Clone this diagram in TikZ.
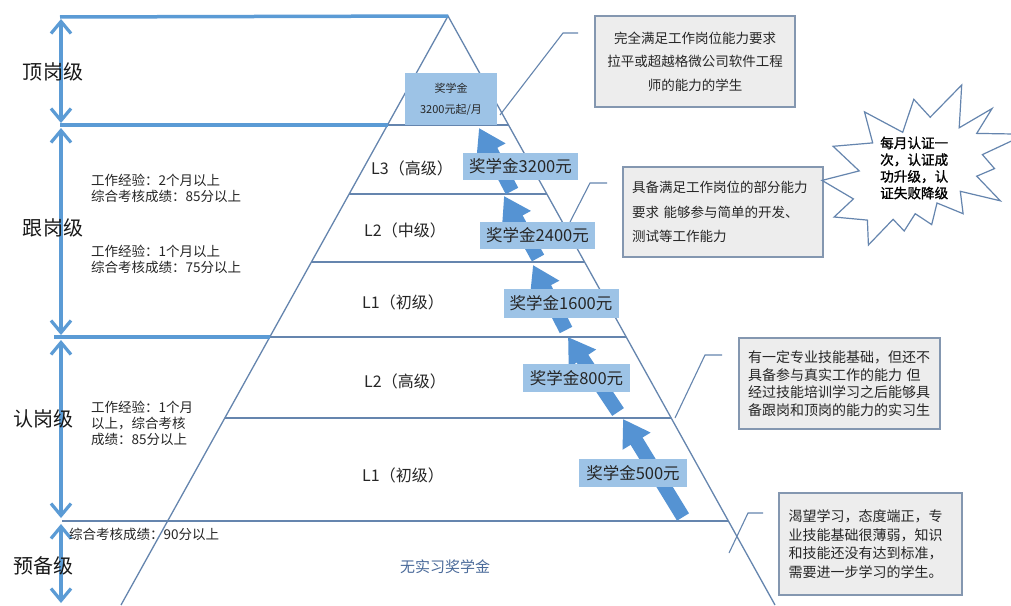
\documentclass[tikz,border=0pt]{standalone}
\usepackage{fontspec}
\setmainfont{Noto Sans CJK SC}
\newfontfamily\cjkbold{Noto Sans CJK SC}[FakeBold=1.2]
\usetikzlibrary{arrows.meta}
\definecolor{thickblue}{HTML}{5B9BD5}
\definecolor{pyr}{HTML}{6585AE}
\definecolor{arrowblue}{HTML}{5593D3}
\definecolor{lblue}{HTML}{9DC3E6}
\definecolor{gfill}{HTML}{EDEDED}
\definecolor{gdraw}{HTML}{8497B0}
\definecolor{txt}{HTML}{262626}
\definecolor{notxt}{HTML}{4A6A9A}
\begin{document}
\begin{tikzpicture}[x=1pt,y=-1pt,
  divline/.style={draw=thickblue,line width=3.5pt},
  pyrline/.style={draw=pyr,line width=1.3pt},
  callout/.style={draw=pyr,line width=1.1pt},
  levarrow/.style={draw=thickblue,line width=3.2pt,{Straight Barb[length=12pt,width=20pt]}-{Straight Barb[length=12pt,width=20pt]}},
  blockarrow/.style={draw=arrowblue,line width=14pt,-{Triangle[length=26pt,width=31pt]}},
  lbox/.style={fill=lblue,inner sep=0pt,text=txt,font=\fontsize{16.5}{18}\selectfont},
  gbox/.style={fill=gfill,draw=gdraw,line width=1.2pt,text=txt,inner sep=0pt},
  levlabel/.style={font=\fontsize{20}{24}\selectfont,text=black!90},
  pyrlabel/.style={font=\fontsize{16}{18}\selectfont,text=txt},
  cond/.style={font=\fontsize{13.5}{16}\selectfont,text=txt,align=left,anchor=west,inner sep=0pt},
]
\useasboundingbox (0,0) rectangle (1011,605);
\clip (0,0) rectangle (1011,605);
\fill[white] (0,0) rectangle (1011,605);

% pyramid
\coordinate (apex) at (448,16);
\coordinate (bl) at (121,605);
\coordinate (br) at (775,605);
\draw[pyrline] (bl) -- (apex) -- (br);

% level lines
\draw[divline] (60,17) -- (apex);
\draw[divline] (60,125) -- (387.5,125);
\draw[pyrline] (387.5,125) -- (508.5,125);
\draw[pyrline] (349.2,194) -- (546.8,194);
\draw[pyrline] (311.5,262) -- (584.5,262);
\draw[divline] (54,337) -- (269.8,337);
\draw[pyrline] (269.8,337) -- (626.2,337);
\draw[pyrline] (224.9,418) -- (671.1,418);
\draw[pyrline,line width=1.8pt] (62,521) -- (728.3,521);

% vertical level arrows
\draw[levarrow] (61,19) -- (61,123);
\draw[levarrow] (61,128) -- (61,335);
\draw[levarrow] (61,340) -- (61,518);
\draw[levarrow] (61,524) -- (61,603);

% level labels
\node[levlabel] (lv1) at (53,72) {顶岗级};
\node[levlabel] (lv2) at (53,228) {跟岗级};
\node[levlabel] (lv3) at (43,419) {认岗级};
\node[levlabel] (lv4) at (43,566) {预备级};

% conditions
\node[cond] (c1) at (91,188.5) {工作经验：2个月以上\\综合考核成绩：85分以上};
\node[cond] (c2) at (91,259.5) {工作经验：1个月以上\\综合考核成绩：75分以上};
\node[cond] (c3) at (91,423) {工作经验：1个月\\以上，综合考核\\成绩：85分以上};
\node[cond] (c4) at (69,534) {综合考核成绩：90分以上};

% pyramid labels
\node[pyrlabel] (p5) at (412,168) {L3（高级）};
\node[pyrlabel] (p4) at (405,230) {L2（中级）};
\node[pyrlabel] (p3) at (403,302) {L1（初级）};
\node[pyrlabel] (p2) at (405,381) {L2（高级）};
\node[pyrlabel] (p1) at (403,475) {L1（初级）};
\node[font=\fontsize{15}{18}\selectfont,text=notxt] (none) at (445,567) {无实习奖学金};

% callout lines
\coordinate (k1a) at (500,115); \coordinate (k1b) at (563,33); \coordinate (k1c) at (578,33);
\coordinate (k2a) at (570,222); \coordinate (k2b) at (590,183); \coordinate (k2c) at (607,183);
\coordinate (k3a) at (675,418); \coordinate (k3b) at (705,355); \coordinate (k3c) at (722,355);
\coordinate (k4a) at (729,553); \coordinate (k4b) at (748,513); \coordinate (k4c) at (763,513);
\draw[callout] (k1a) -- (k1b) -- (k1c);
\draw[callout] (k2a) -- (k2b) -- (k2c);
\draw[callout] (k3a) -- (k3b) -- (k3c);
\draw[callout] (k4a) -- (k4b) -- (k4c);

% block arrows
\coordinate (a1s) at (683,517); \coordinate (a1e) at (623,419);
\coordinate (a2s) at (618,412); \coordinate (a2e) at (568,337);
\coordinate (a3s) at (566,330); \coordinate (a3e) at (533,265);
\coordinate (a4s) at (538,258); \coordinate (a4e) at (504,196);
\coordinate (a5s) at (512,191); \coordinate (a5e) at (479,128);
\draw[blockarrow] (a1s) -- (a1e);
\draw[blockarrow] (a2s) -- (a2e);
\draw[blockarrow] (a3s) -- (a3e);
\draw[blockarrow] (a4s) -- (a4e);
\draw[blockarrow] (a5s) -- (a5e);

% scholarship boxes
\node[lbox,minimum width=92pt,minimum height=52pt,align=center,font=\fontsize{11}{21}\selectfont] (top) at (451,99) {奖学金\\3200元起/月};
\node[lbox,minimum width=115pt,minimum height=27pt] (s5) at (520.5,166.5) {奖学金3200元};
\node[lbox,minimum width=115pt,minimum height=27pt] (s4) at (537.5,235.5) {奖学金2400元};
\node[lbox,minimum width=115pt,minimum height=29pt] (s3) at (561,303.5) {奖学金1600元};
\node[lbox,minimum width=107pt,minimum height=28pt] (s2) at (576.5,378) {奖学金800元};
\node[lbox,minimum width=108pt,minimum height=28pt] (s1) at (633,473) {奖学金500元};

% description boxes
\node[gbox,minimum width=200pt,minimum height=91pt,align=center,font=\fontsize{13.5}{23.5}\selectfont] (g1) at (695,61.5)
  {完全满足工作岗位能力要求\\拉平或超越格微公司软件工程\\师的能力的学生};
\node[gbox,minimum width=200pt,minimum height=90pt,text width=182pt,align=left,font=\fontsize{13.5}{24.5}\selectfont] (g2) at (723,212)
  {具备满足工作岗位的部分能力\\要求 能够参与简单的开发、\\测试等工作能力};
\node[gbox,minimum width=201pt,minimum height=91pt,text width=183pt,align=left,font=\fontsize{14}{17.5}\selectfont] (g3) at (839.5,383.5)
  {有一定专业技能基础，但还不\\具备参与真实工作的能力 但\\经过技能培训学习之后能够具\\备跟岗和顶岗的能力的实习生};
\node[gbox,minimum width=183pt,minimum height=102pt,text width=164pt,align=left,font=\fontsize{14}{18.7}\selectfont] (g4) at (870.5,544)
  {渴望学习，态度端正，专\\业技能基础很薄弱，知识\\和技能还没有达到标准，\\需要进一步学习的学生。};

% starburst
\draw[draw=pyr,fill=white,line width=1.2pt]
  (930.2,117.2) -- (961.7,85) -- (959.2,127.8) -- (992.1,108.5) -- (976.7,133.4)
  -- (1026,134.2) -- (982.4,154.6) -- (994.5,168.6) -- (976.7,176.2) -- (1000.3,200.8)
  -- (960.3,191.3) -- (963.1,213.7) -- (937.0,203.0) -- (931.7,224.6) -- (915.2,213.7)
  -- (904.2,231.0) -- (893.1,219.3) -- (868.4,245) -- (867.4,220.1) -- (834.1,217.0)
  -- (853.4,198.9) -- (822,180.4) -- (859.2,170.9) -- (833.1,146.3) -- (872.7,142.9)
  -- (864.5,111.9) -- (902.7,132.3) -- (913.8,99.3) -- cycle;
\node[anchor=west,align=left,inner sep=0pt,text=black,font=\cjkbold\fontsize{13.6}{16.7}\selectfont] (burst) at (880,168)
  {每月认证一\\次，认证成\\功升级，认\\证失败降级};
\end{tikzpicture}
\end{document}
